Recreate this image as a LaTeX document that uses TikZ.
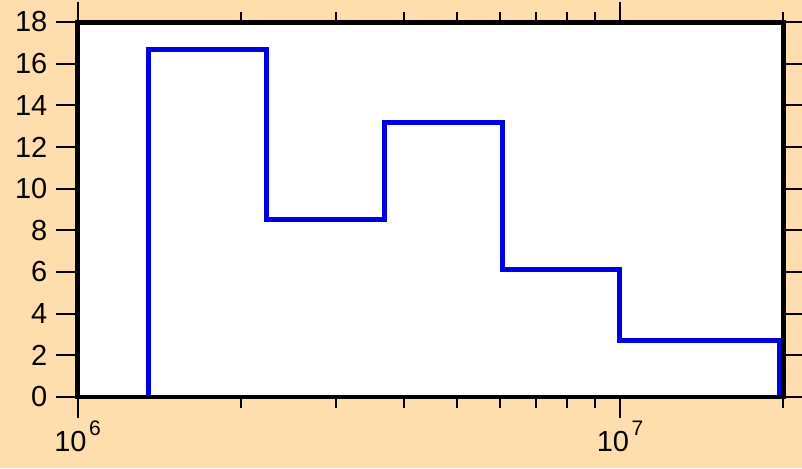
\documentclass[tikz,border=0pt]{standalone}
\usepackage{fontspec}
\setmainfont{Liberation Sans}
\definecolor{bgorange}{RGB}{255,222,173}
\definecolor{histblue}{RGB}{0,0,230}
\begin{document}
\begin{tikzpicture}[x=1pt,y=-1pt,
  frameline/.style={line width=4.5pt},
  tickline/.style={line width=2pt},
  histline/.style={line width=5pt,histblue,line join=miter},
  ylab/.style={anchor=east,inner sep=0pt,font=\fontsize{29}{32}\selectfont},
  xlab/.style={anchor=base,inner sep=0pt,font=\fontsize{29}{32}\selectfont}]
\useasboundingbox (0,0) rectangle (802,468);
\fill[bgorange] (0,0) rectangle (802,468);
% plot area
\fill[white] (77.5,22.5) rectangle (783.5,397);
% histogram
\begin{scope}
\clip (77.5,22.5) rectangle (783.5,397);
\draw[histline] (148.5,399) -- (148.5,49.2) -- (266.3,49.2) -- (266.3,219.8)
  -- (384.6,219.8) -- (384.6,122.5) -- (502.3,122.5) -- (502.3,269.8)
  -- (619.8,269.8) -- (619.8,340.8) -- (779.8,340.8) -- (779.8,399);
\end{scope}
% y ticks and labels
\foreach \v in {0,2,...,18}{
  \pgfmathsetmacro{\yy}{397-20.833*\v}
  \draw[tickline] (56,\yy) -- (77.5,\yy);
  \draw[tickline] (783.5,\yy) -- (805,\yy);
  \node[ylab] (yl\v) at (47.5,\yy) {\v};
}
% x major ticks
\foreach \xx in {77.5,620}{
  \draw[tickline] (\xx,397) -- (\xx,418);
  \draw[tickline] (\xx,22.5) -- (\xx,2);
}
% x minor ticks
\foreach \xx in {240.8,336.3,404.1,456.7,499.6,536.0,567.4,595.2,783.3}{
  \draw[tickline] (\xx,397) -- (\xx,407.5);
  \draw[tickline] (\xx,22.5) -- (\xx,12);
}
% frame
\draw[frameline] (77.5,22.5) rectangle (783.5,397);
% x labels
\node[xlab] (xl6) at (77.5,451) {10\kern2.5pt\raisebox{16pt}{\fontsize{21}{21}\selectfont 6}};
\node[xlab] (xl7) at (620,451) {10\kern2.5pt\raisebox{16pt}{\fontsize{21}{21}\selectfont 7}};
\end{tikzpicture}
\end{document}
